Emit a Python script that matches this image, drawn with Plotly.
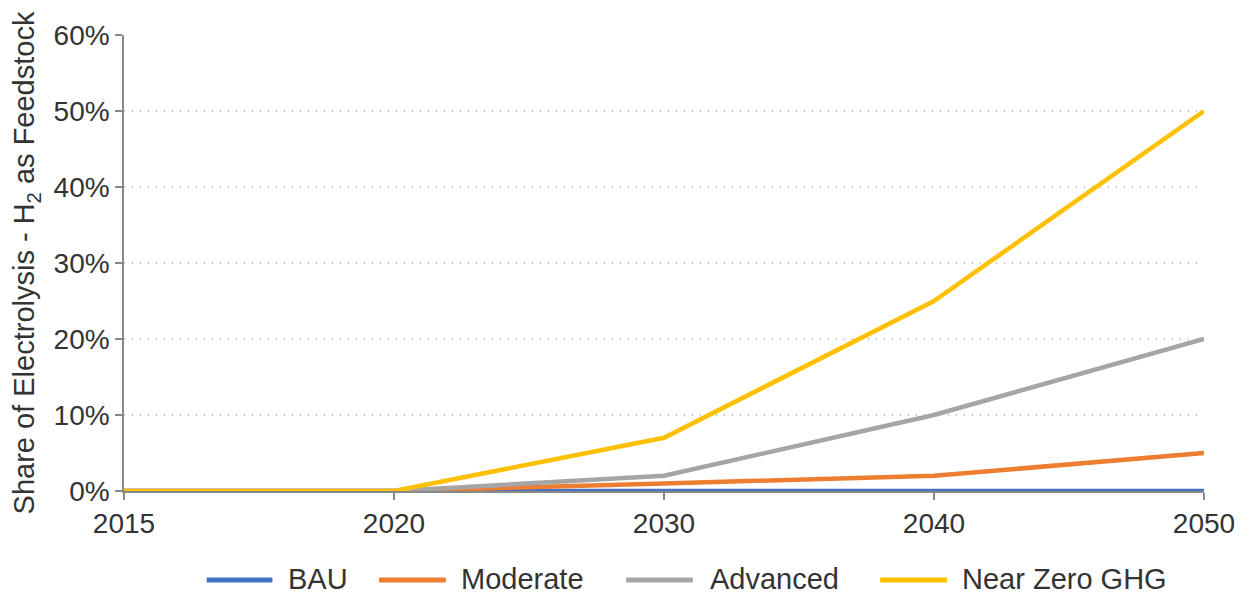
import plotly.graph_objects as go

years = ["2015", "2020", "2030", "2040", "2050"]
bau = [0, 0, 0, 0, 0]
moderate = [0, 0, 1, 2, 5]
advanced = [0, 0, 2, 10, 20]
near_zero = [0, 0, 7, 25, 50]

names = ["BAU", "Moderate", "Advanced", "Near Zero GHG"]
values = [bau, moderate, advanced, near_zero]
colors = ["#4472C4", "#ED7D31", "#A5A5A5", "#FFC000"]

# page body has an 8px margin; figure sized so the plot sits where the reference has it
W, H = 1239, 594
L, R, T, B = 116, 39, 22, 111
pw, ph = W - L - R, H - T - B

def px_x(x):
    return (x - L) / pw

def px_y(y):
    return (H - B - y) / ph

fig = go.Figure()
for name, vals, color in zip(names, values, colors):
    fig.add_trace(go.Scatter(
        x=years, y=vals, name=name, mode="lines",
        line=dict(color=color, width=4.5),
        showlegend=False,
    ))

font = "Liberation Sans, Arial, sans-serif"
text_col = "#333333"

# custom legend (long line samples like the reference)
leg_lines = [(199, 265), (372, 439), (620, 687), (875, 942)]
leg_text_x = [279, 452, 702, 955]
leg_y = 572
shapes = []
annotations = []
for (x0, x1), tx, name, color in zip(leg_lines, leg_text_x, names, colors):
    shapes.append(dict(type="line", xref="paper", yref="paper",
                       x0=px_x(x0), x1=px_x(x1), y0=px_y(leg_y + 1), y1=px_y(leg_y + 1),
                       line=dict(color=color, width=5)))
    annotations.append(dict(xref="paper", yref="paper", x=px_x(tx), y=px_y(leg_y),
                            text=name, showarrow=False, xanchor="left", yanchor="middle",
                            font=dict(family=font, size=29, color=text_col)))

fig.update_layout(
    width=W, height=H,
    margin=dict(l=L, r=R, t=T, b=B),
    paper_bgcolor="white", plot_bgcolor="white",
    font=dict(family=font, size=28, color=text_col),
    showlegend=False,
    shapes=shapes,
    annotations=annotations,
    xaxis=dict(
        type="category", range=[0, 4], showgrid=False,
        showline=True, linecolor="#888888", linewidth=1.5,
        ticks="outside", ticklen=7, tickcolor="#888888", tickwidth=1.5,
        tickfont=dict(size=28, color=text_col),
    ),
    yaxis=dict(
        range=[0, 60], dtick=10, ticksuffix="%",
        showgrid=True, gridcolor="#BDBDBD", griddash="1px,7px", gridwidth=1.5,
        showline=True, linecolor="#888888", linewidth=1.5,
        ticks="outside", ticklen=7, tickcolor="#888888", tickwidth=1.5,
        tickfont=dict(size=28, color=text_col),
        zeroline=False,
        title=dict(text="Share of Electrolysis - H<sub>2</sub> as Feedstock",
                   font=dict(size=29, color=text_col), standoff=10),
    ),
)

fig.write_html("out.html")
